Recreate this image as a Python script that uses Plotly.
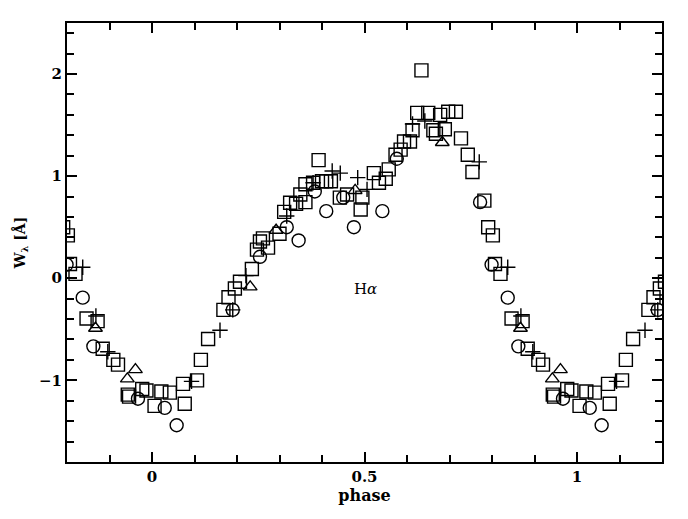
import numpy as np
import plotly.graph_objects as go

# H-alpha equivalent width vs phase (one cycle, repeated over -0.2..1.2)
sq_phase = [0.006, 0.022, 0.042, 0.077, 0.073, 0.106, 0.115, 0.132, 0.168, 0.180, 0.195,
            0.207, 0.235, 0.247, 0.254, 0.273, 0.261, 0.300, 0.311, 0.325, 0.339, 0.361, 0.349,
            0.361, 0.379, 0.392, 0.400, 0.410, 0.421, 0.442, 0.459, 0.495, 0.491, 0.522,
            0.534, 0.550, 0.557, 0.573, 0.585, 0.593, 0.607, 0.613, 0.624, 0.634, 0.650,
            0.662, 0.668, 0.678, 0.689, 0.697, 0.715, 0.727, 0.743, 0.754, 0.782, 0.791,
            0.802, 0.807, 0.820, 0.846, 0.872, 0.884, 0.909, 0.920, 0.943, 0.946, 0.977, 0.987]
sq_w = [-1.25, -1.11, -1.12, -1.23, -1.035, -1.00, -0.80, -0.595, -0.31, -0.186, -0.10,
        -0.035, 0.09, 0.28, 0.36, 0.30, 0.39, 0.435, 0.65, 0.74, 0.73, 0.745, 0.82,
        0.92, 0.935, 1.157, 0.95, 0.95, 0.95, 0.79, 0.82, 0.79, 0.673, 1.03,
        0.935, 0.975, 1.066, 1.21, 1.26, 1.34, 1.34, 1.45, 1.62, 2.036, 1.62,
        1.45, 1.415, 1.60, 1.46, 1.63, 1.63, 1.37, 1.21, 1.04, 0.76, 0.50,
        0.42, 0.14, 0.043, -0.395, -0.42, -0.69, -0.80, -0.846, -1.14, -1.16, -1.085, -1.10]

ci_phase = [0.030, 0.058, 0.190, 0.254, 0.317, 0.345, 0.383, 0.410, 0.450, 0.475,
            0.542, 0.576, 0.772, 0.799, 0.837, 0.862, 0.967]
ci_w = [-1.27, -1.44, -0.31, 0.21, 0.50, 0.37, 0.85, 0.657, 0.79, 0.50,
        0.657, 1.17, 0.745, 0.134, -0.19, -0.667, -1.18]

pl_phase = [0.093, 0.160, 0.190, 0.221, 0.317, 0.379, 0.424, 0.443, 0.484, 0.506,
            0.613, 0.642, 0.770, 0.837, 0.868, 0.896]
pl_w = [-1.01, -0.51, -0.31, 0.026, 0.61, 0.935, 1.05, 1.03, 0.985, 0.87,
        1.51, 1.54, 1.14, 0.108, -0.37, -0.72]

tr_phase = [0.231, 0.292, 0.478, 0.683, 0.867, 0.942, 0.961]
tr_w = [-0.085, 0.47, 0.86, 1.33, -0.49, -0.986, -0.895]


def wrap(phase, w, lo=-0.21, hi=1.21):
    p = np.asarray(phase)
    v = np.asarray(w)
    xs, ys = [], []
    for k in (-1, 0, 1):
        m = (p + k >= lo) & (p + k <= hi)
        xs.append(p[m] + k)
        ys.append(v[m])
    return np.concatenate(xs), np.concatenate(ys)


series = [
    (sq_phase, sq_w, "square-open", 13),
    (ci_phase, ci_w, "circle-open", 13),
    (tr_phase, tr_w, "triangle-up-open", 12),
    (pl_phase, pl_w, "cross-thin-open", 11),
]

fig = go.Figure()
for ph, w, sym, sz in series:
    x, y = wrap(ph, w)
    fig.add_trace(go.Scatter(
        x=x, y=y, mode="markers", showlegend=False, cliponaxis=True,
        marker=dict(symbol=sym, size=sz, color="black", line=dict(color="black", width=1.4)),
    ))

fig.add_annotation(x=0.503, y=-0.11, text="H<i>α</i>", showarrow=False,
                   font=dict(family="DejaVu Serif", size=15, color="black"))

axis_common = dict(
    showline=True, linecolor="black", linewidth=2, mirror="ticks",
    ticks="inside", tickcolor="black", tickwidth=1.5,
    showgrid=False, zeroline=False,
    tickfont=dict(family="DejaVu Serif", size=15, color="black", weight="bold"),
)

# page body has an 8px margin, so the figure is sized to fit inside it
fig.update_layout(
    width=672, height=503,
    margin=dict(l=59, r=18, t=15, b=49),
    paper_bgcolor="white", plot_bgcolor="white",
    xaxis=dict(axis_common, range=[-0.2, 1.2], tickvals=[0, 0.5, 1], ticktext=["0", "0.5", "1"],
               ticklen=10, minor=dict(dtick=0.1, tick0=0, ticklen=7, ticks="inside", tickcolor="black"),
               title=dict(text="phase", standoff=2,
                          font=dict(family="DejaVu Serif", size=16, color="black", weight="bold"))),
    yaxis=dict(axis_common, range=[-1.8, 2.5], tickvals=[-1, 0, 1, 2], ticktext=["−1", "0", "1", "2"],
               ticklen=10, minor=dict(dtick=0.2, tick0=0, ticklen=7, ticks="inside", tickcolor="black"),
               title=dict(text="W<sub>λ</sub> [Å]", standoff=10,
                          font=dict(family="DejaVu Serif", size=14, color="black", weight="bold"))),
)

fig.write_html("out.html")
